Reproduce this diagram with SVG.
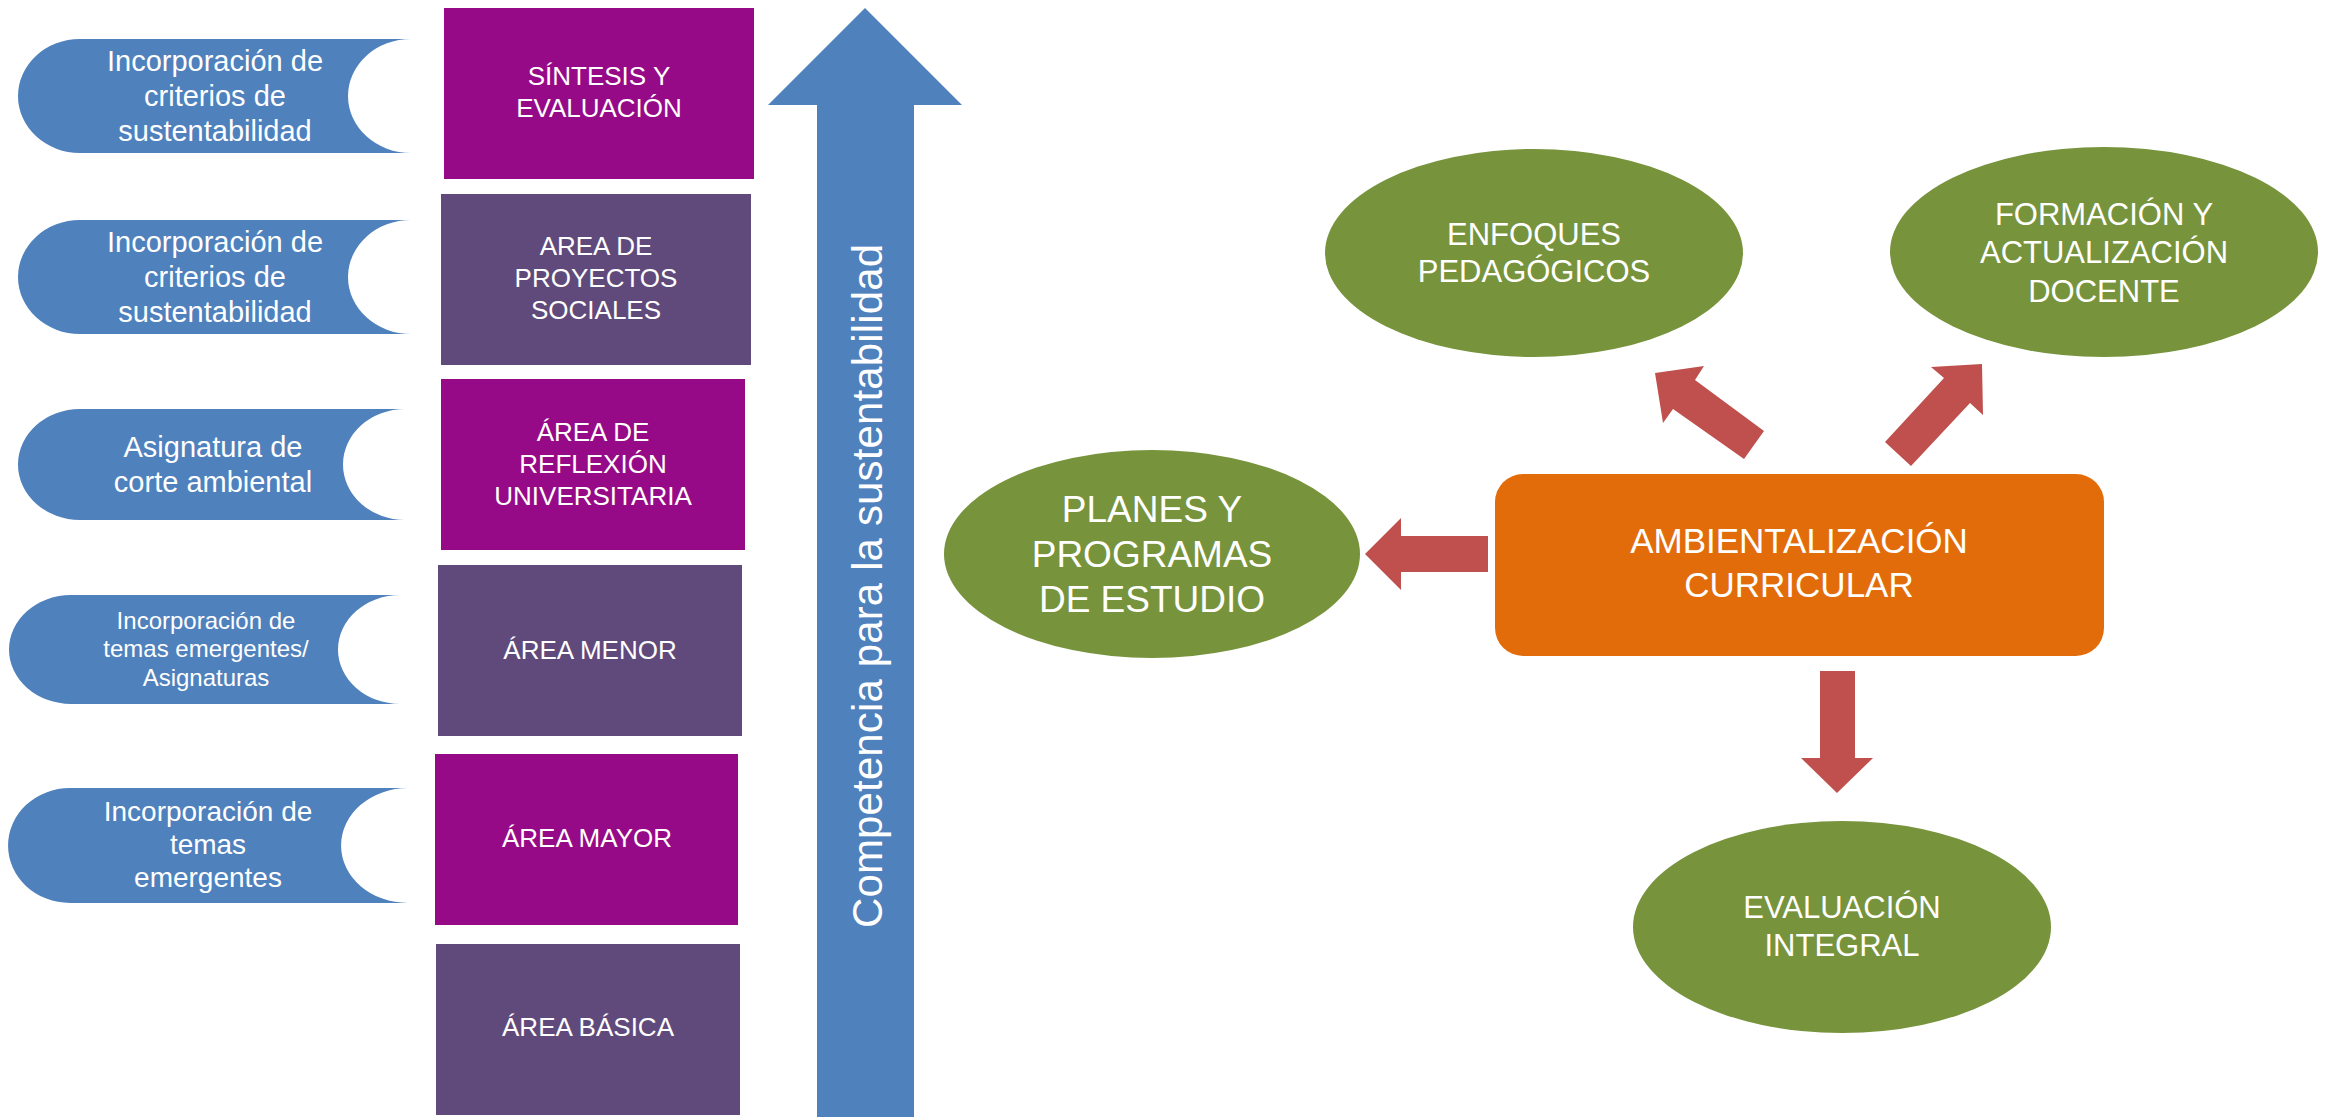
<svg xmlns="http://www.w3.org/2000/svg" width="2328" height="1117" viewBox="0 0 2328 1117">
<style>
.t{font-family:"Liberation Sans",Arial,sans-serif;fill:#ffffff;text-anchor:middle}
.blue{fill:#4f81bd}
.mag{fill:#960a88}
.pur{fill:#604a7b}
.grn{fill:#77933c}
.org{fill:#e36c0a}
.red{fill:#c0504d}
</style>
<rect width="2328" height="1117" fill="#ffffff"/>
<g id="left-tags">
<g id="tag1"><path class="blue" d="M80,39 L411,39 A63,57 0 0 0 411,153 L80,153 A62,57 0 0 1 80,39 Z"/>
<text class="t" font-size="29"><tspan x="215" y="71">Incorporación de</tspan><tspan x="215" y="106">criterios de</tspan><tspan x="215" y="141">sustentabilidad</tspan></text></g>
<g id="tag2"><path class="blue" d="M80,220 L411,220 A63,57 0 0 0 411,334 L80,334 A62,57 0 0 1 80,220 Z"/>
<text class="t" font-size="29"><tspan x="215" y="252">Incorporación de</tspan><tspan x="215" y="287">criterios de</tspan><tspan x="215" y="322">sustentabilidad</tspan></text></g>
<g id="tag3"><path class="blue" d="M80,409 L405,409 A62,55.5 0 0 0 405,520 L80,520 A62,55.5 0 0 1 80,409 Z"/>
<text class="t" font-size="29"><tspan x="213" y="457">Asignatura de</tspan><tspan x="213" y="492">corte ambiental</tspan></text></g>
<g id="tag4"><path class="blue" d="M71,595 L400,595 A62,54.5 0 0 0 400,704 L71,704 A62,54.5 0 0 1 71,595 Z"/>
<text class="t" font-size="24"><tspan x="206" y="629">Incorporación de</tspan><tspan x="206" y="657">temas emergentes/</tspan><tspan x="206" y="686">Asignaturas</tspan></text></g>
<g id="tag5"><path class="blue" d="M70,788 L408,788 A67,57.5 0 0 0 408,903 L70,903 A62,57.5 0 0 1 70,788 Z"/>
<text class="t" font-size="28"><tspan x="208" y="821">Incorporación de</tspan><tspan x="208" y="854">temas</tspan><tspan x="208" y="887">emergentes</tspan></text></g>
</g>
<g id="areas">
<g id="area1"><rect class="mag" x="444" y="8" width="310" height="171"/>
<text class="t" font-size="26"><tspan x="599" y="85">SÍNTESIS Y</tspan><tspan x="599" y="117">EVALUACIÓN</tspan></text></g>
<g id="area2"><rect class="pur" x="441" y="194" width="310" height="171"/>
<text class="t" font-size="26"><tspan x="596" y="255">AREA DE</tspan><tspan x="596" y="287">PROYECTOS</tspan><tspan x="596" y="319">SOCIALES</tspan></text></g>
<g id="area3"><rect class="mag" x="441" y="379" width="304" height="171"/>
<text class="t" font-size="26"><tspan x="593" y="441">ÁREA DE</tspan><tspan x="593" y="473">REFLEXIÓN</tspan><tspan x="593" y="505">UNIVERSITARIA</tspan></text></g>
<g id="area4"><rect class="pur" x="438" y="565" width="304" height="171"/>
<text class="t" font-size="26" x="590" y="659">ÁREA MENOR</text></g>
<g id="area5"><rect class="mag" x="435" y="754" width="303" height="171"/>
<text class="t" font-size="26" x="587" y="847">ÁREA MAYOR</text></g>
<g id="area6"><rect class="pur" x="436" y="944" width="304" height="171"/>
<text class="t" font-size="26" x="588" y="1036">ÁREA BÁSICA</text></g>
</g>
<g id="competencia-arrow">
<polygon class="blue" points="865,8 962,105 914,105 914,1117 817,1117 817,105 768,105"/>
<text class="t" font-size="42" transform="translate(882,586) rotate(-90)" x="0" y="0" textLength="684">Competencia para la sustentabilidad</text>
</g>
<g id="enfoques"><ellipse class="grn" cx="1534" cy="253" rx="209" ry="104"/>
<text class="t" font-size="31"><tspan x="1534" y="245">ENFOQUES</tspan><tspan x="1534" y="282">PEDAGÓGICOS</tspan></text></g>
<g id="formacion"><ellipse class="grn" cx="2104" cy="252" rx="214" ry="105"/>
<text class="t" font-size="31"><tspan x="2104" y="225">FORMACIÓN Y</tspan><tspan x="2104" y="263">ACTUALIZACIÓN</tspan><tspan x="2104" y="302">DOCENTE</tspan></text></g>
<g id="planes"><ellipse class="grn" cx="1152" cy="554" rx="208" ry="104"/>
<text class="t" font-size="37"><tspan x="1152" y="522">PLANES Y</tspan><tspan x="1152" y="567">PROGRAMAS</tspan><tspan x="1152" y="612">DE ESTUDIO</tspan></text></g>
<g id="ambientalizacion"><rect class="org" x="1495" y="474" width="609" height="182" rx="28" ry="28"/>
<text class="t" font-size="35"><tspan x="1799" y="553">AMBIENTALIZACIÓN</tspan><tspan x="1799" y="597">CURRICULAR</tspan></text></g>
<g id="evaluacion"><ellipse class="grn" cx="1842" cy="927" rx="209" ry="106"/>
<text class="t" font-size="31"><tspan x="1842" y="918">EVALUACIÓN</tspan><tspan x="1842" y="956">INTEGRAL</tspan></text></g>
<g id="connectors">
<polygon class="red" points="1488,536 1401,536 1401,518 1365,554 1401,590 1401,572 1488,572"/>
<polygon class="red" points="1820,671 1855,671 1855,758 1873,758 1837,793 1801,758 1820,758"/>
<polygon class="red" points="1655,373 1704,366 1695,380 1764,431 1744,459 1673,409 1663,423"/>
<polygon class="red" points="1931,367 1982,364 1983,415 1970,403 1911,466 1885,442 1944,378"/>
</g>
</svg>
